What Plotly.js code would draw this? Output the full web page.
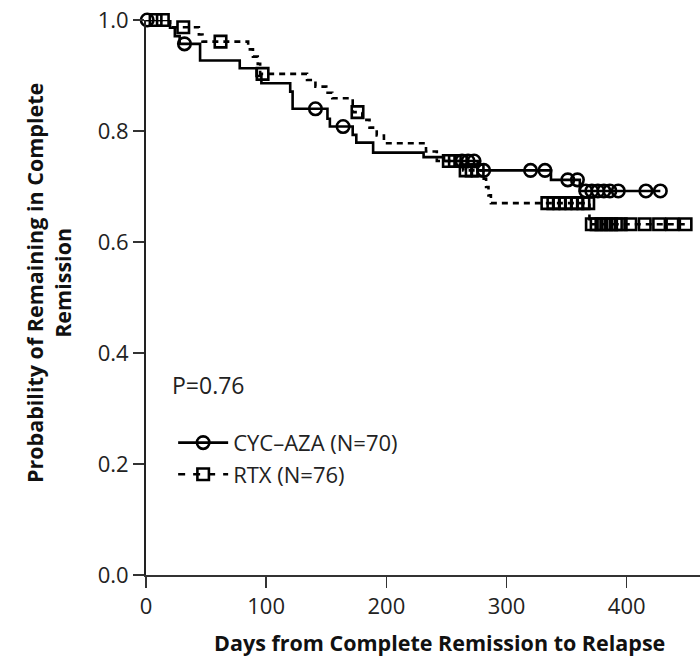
<!DOCTYPE html>
<html>
<head>
<meta charset="utf-8">
<script src="https://cdn.plot.ly/plotly-3.0.1.min.js"></script>
<style>html,body{margin:0;padding:0;background:#fff;}#chart{width:700px;height:665px;}</style>
</head>
<body>
<div id="chart"></div>
<script>
// CYC-AZA Kaplan-Meier steps (day, probability)
var cycTimes = [0, 20, 24, 28, 45, 78, 92, 96, 120, 122, 151, 153, 172, 175, 189, 231, 248, 276, 337, 361, 428];
var cycSurv  = [1.0, 0.986, 0.971, 0.957, 0.927, 0.913, 0.899, 0.886, 0.871, 0.840, 0.822, 0.808, 0.793, 0.779, 0.761, 0.753, 0.746, 0.729, 0.712, 0.692, 0.692];
// CYC-AZA censored observations (day)
var cycCensor = [1, 32, 141, 164, 263, 268, 273, 281, 320, 332, 351, 359, 366, 371, 376, 381, 386, 393, 416, 428];

// RTX Kaplan-Meier steps
var rtxTimes = [0, 20, 44, 47, 85, 89, 93, 95, 134, 141, 150, 155, 172, 180, 186, 192, 198, 233, 242, 264, 281, 283, 285, 287, 369, 452];
var rtxSurv  = [1.0, 0.987, 0.974, 0.961, 0.947, 0.934, 0.921, 0.903, 0.892, 0.880, 0.869, 0.859, 0.834, 0.820, 0.806, 0.792, 0.778, 0.763, 0.746, 0.729, 0.714, 0.699, 0.684, 0.670, 0.632, 0.632];
// RTX censored observations (day)
var rtxCensor = [8, 14, 31, 62, 97, 176, 252, 257, 262, 266, 271, 276, 334, 339, 344, 349, 354, 359, 364, 368, 371, 375, 379, 383, 387, 391, 395, 403, 415, 427, 438, 449];

var seriesNames = ['CYC\u2013AZA (N=70)', 'RTX (N=76)'];
var pValueText = 'P=0.76';
var xTicks = [0, 100, 200, 300, 400];
var yTicks = [0, 0.2, 0.4, 0.6, 0.8, 1.0];

function survAt(times, surv, t) {
  var v = surv[0];
  for (var i = 0; i < times.length; i++) { if (times[i] <= t) v = surv[i]; }
  return v;
}

var LW = 2.6;
var traces = [
  {x: cycTimes, y: cycSurv, mode: 'lines', line: {shape: 'hv', color: '#000', width: LW}, showlegend: false, cliponaxis: false, hoverinfo: 'skip'},
  {x: cycCensor, y: cycCensor.map(function(t){return survAt(cycTimes, cycSurv, t);}), mode: 'markers',
   marker: {symbol: 'circle-open', size: 12.5, color: '#000', line: {width: 2.6, color: '#000'}}, showlegend: false, cliponaxis: false},
  {x: rtxTimes, y: rtxSurv, mode: 'lines', line: {shape: 'hv', color: '#000', width: LW, dash: '6px,5px'}, showlegend: false, cliponaxis: false, hoverinfo: 'skip'},
  {x: rtxCensor, y: rtxCensor.map(function(t){return survAt(rtxTimes, rtxSurv, t);}), mode: 'markers',
   marker: {symbol: 'square-open', size: 11.5, color: '#000', line: {width: 2.6, color: '#000'}}, showlegend: false, cliponaxis: false},
  // legend entries
  {x: [null], y: [null], name: seriesNames[0], mode: 'lines+markers', line: {color: '#000', width: LW},
   marker: {symbol: 'circle-open', size: 12.5, color: '#000', line: {width: 2.6}}},
  {x: [null], y: [null], name: seriesNames[1], mode: 'lines+markers', line: {color: '#000', width: LW, dash: '7px,8px'},
   marker: {symbol: 'square-open', size: 11.5, color: '#000', line: {width: 2.6}}}
];

var FONT = 'Open Sans, Noto Sans, sans-serif';
var layout = {
  width: 700, height: 665,
  margin: {l: 146, r: 0, t: 20, b: 89.5},
  paper_bgcolor: '#fff', plot_bgcolor: '#fff',
  font: {family: FONT, size: 22, color: '#222'},
  showlegend: true,
  legend: {x: 0.049, y: 0.276, xanchor: 'left', yanchor: 'top', bgcolor: 'rgba(0,0,0,0)', itemwidth: 50,
           font: {family: FONT, size: 22, color: '#222'}, tracegroupgap: 0},
  xaxis: {range: [0, 461], tickvals: xTicks, ticktext: xTicks.map(String), ticks: 'outside', ticklen: 11, tickwidth: 1.5,
          tickcolor: '#333', showline: true, linecolor: '#333', linewidth: 2, showgrid: false, zeroline: false,
          tickfont: {family: FONT, size: 22, color: '#222'}, fixedrange: true},
  yaxis: {range: [0, 1], tickvals: yTicks, ticktext: yTicks.map(function(v){return v.toFixed(1);}), ticks: 'outside', ticklen: 11, tickwidth: 1.5,
          tickcolor: '#333', showline: true, linecolor: '#222', linewidth: 2, showgrid: false, zeroline: false,
          tickfont: {family: FONT, size: 22, color: '#222'}, fixedrange: true},
  annotations: [
    {text: pValueText, xref: 'x', yref: 'y', x: 20, y: 0.343, xanchor: 'left', yanchor: 'middle', showarrow: false,
     font: {family: FONT, size: 23, color: '#222'}},
    {text: '<b>Days from Complete Remission to Relapse</b>', xref: 'paper', yref: 'paper', x: 0.529, y: -0.121,
     xanchor: 'center', yanchor: 'middle', showarrow: false, font: {family: FONT, size: 21.5, color: '#111'}},
    {text: '<b>Probability of Remaining in Complete<br>Remission</b>', xref: 'paper', yref: 'paper', x: -0.176, y: 0.527,
     xanchor: 'center', yanchor: 'middle', textangle: -90, showarrow: false, font: {family: FONT, size: 21.5, color: '#111'}}
  ]
};

Plotly.newPlot('chart', traces, layout, {displayModeBar: false, staticPlot: true});
</script>
</body>
</html>
